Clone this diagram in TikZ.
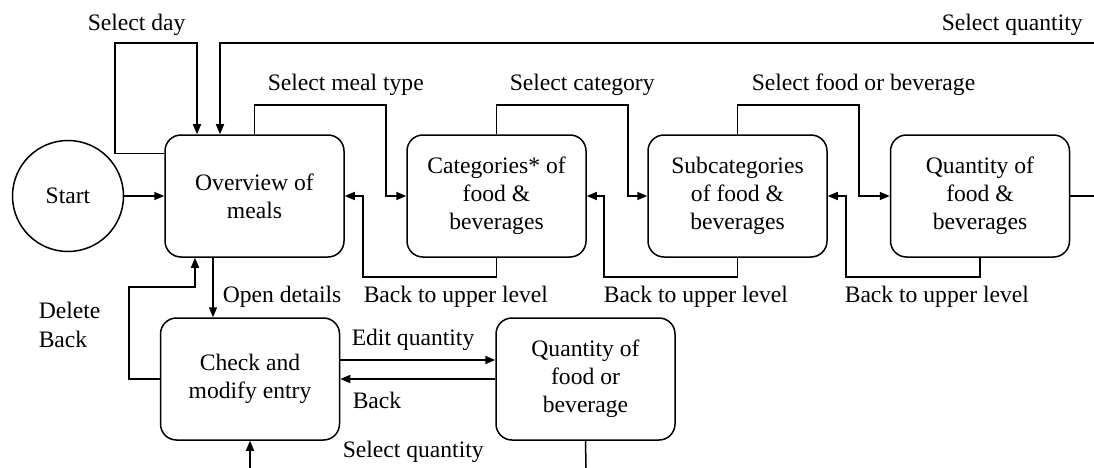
\documentclass[tikz,border=0pt]{standalone}
\usepackage{fontspec}
\setmainfont{Liberation Serif}
\usetikzlibrary{arrows.meta, calc}

\begin{document}
\begin{tikzpicture}[x=1pt, y=-1pt, line width=1.5pt,
    every node/.style={font=\fontsize{23.6}{28}\selectfont},
    screen/.style={draw, rounded corners=16pt, minimum width=179pt, minimum height=122pt, inner sep=0pt, align=center},
    startnode/.style={draw, circle, minimum size=111pt, inner sep=0pt},
    lbl/.style={anchor=base west, inner sep=0pt},
    arr/.style={-{Triangle[length=10pt,width=8pt]}}]
            \useasboundingbox (0,0) rectangle (1094,468);
            \node[startnode] (start) at (68,196) {Start};
            \node[screen] (ov) at (254.5,196) {Overview of\\meals};
            \node[screen] (cat) at (496.5,196) {Categories* of\\food \&\\beverages};
            \node[screen] (sub) at (737.5,196) {Subcategories\\of food \&\\beverages};
            \node[screen] (qty) at (980,196) {Quantity of\\food \&\\beverages};
            \node[screen] (chk) at (250,379) {Check and\\modify entry};
            \node[screen] (qof) at (585.5,379) {Quantity of\\food or\\beverage};
            \coordinate (topright) at (1094,43);
            \coordinate (midright) at (1094,196);
            \coordinate (botleft) at (250,468);
            \coordinate (botright) at (586,468);
            \draw[arr] (start) -- (ov);
            \draw[arr] ([yshift=-19pt]ov.north west) -| (115,43) -| ([xshift=-57.5pt]ov.north);
            \draw[arr] (topright) -| ([xshift=-34.5pt]ov.north);
            \draw[arr] (ov.north) |- (386,105) |- (cat.west);
            \draw[arr] (cat.south) |- (363,277) |- (ov.east);
            \draw[arr] (cat.north) |- (628,105) |- (sub.west);
            \draw[arr] (sub.south) |- (604,277) |- (cat.east);
            \draw[arr] (sub.north) |- (859,105) |- (qty.west);
            \draw[arr] (qty.south) |- (846,277) |- (sub.east);
            \draw (qty.east) -- (midright);
            \draw[arr] ([xshift=-41.5pt]ov.south) -- ([xshift=-37pt]chk.north);
            \draw[arr] (chk.west) -| (129,287) -| ([xshift=-59.5pt]ov.south);
            \draw[arr] ([yshift=19pt]chk.east) -- ([yshift=19pt]qof.west);
            \draw[arr] (qof.west) -- (chk.east);
            \draw[arr] (botleft) -- (chk.south);
            \draw (qof.south) -- (botright);
            \node[lbl] (l1) at (87,31) {Select day};
            \node[lbl] (l2) at (941,31) {Select quantity};
            \node[lbl] (l3) at (267,91) {Select meal type};
            \node[lbl] (l4) at (509,91) {Select category};
            \node[lbl] (l5) at (751,91) {Select food or beverage};
            \node[lbl] (l6) at (363,302) {Back to upper level};
            \node[lbl] (l7) at (603,302) {Back to upper level};
            \node[lbl] (l8) at (844,302) {Back to upper level};
            \node[lbl] (l9) at (222,302) {Open details};
            \node[lbl] (l10) at (38,318) {Delete};
            \node[lbl] (l11) at (38,347) {Back};
            \node[lbl] (l12) at (351,345) {Edit quantity};
            \node[lbl] (l13) at (352,408) {Back};
            \node[lbl] (l14) at (342,457) {Select quantity};
        \end{tikzpicture}
\end{document}
